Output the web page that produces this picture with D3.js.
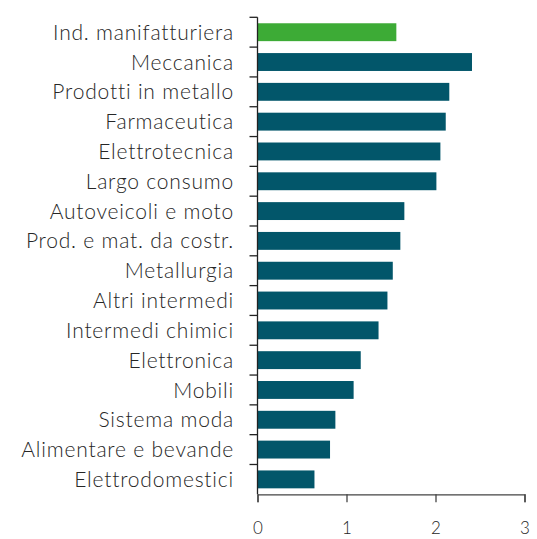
<!DOCTYPE html>
<html><head><meta charset="utf-8">
<script src="https://cdn.jsdelivr.net/npm/d3@7"></script>
<style>body{margin:0;background:#fff}</style>
</head><body>
<svg id="c" width="537" height="539"></svg>
<script>
const categories = ["Ind. manifatturiera","Meccanica","Prodotti in metallo","Farmaceutica","Elettrotecnica","Largo consumo","Autoveicoli e moto","Prod. e mat. da costr.","Metallurgia","Altri intermedi","Intermedi chimici","Elettronica","Mobili","Sistema moda","Alimentare e bevande","Elettrodomestici"];
const values = [1.56,2.41,2.155,2.115,2.055,2.01,1.65,1.605,1.52,1.46,1.36,1.16,1.08,0.875,0.815,0.64];
const xTicks = [0,1,2,3];

const svg = d3.select("#c");
const x = d3.scaleLinear().domain([0,3]).range([257.5,524.5]);
const y = d3.scaleBand().domain(categories).range([17.3,494.3]).paddingInner(0.4).paddingOuter(0.2);

svg.selectAll("rect.bar").data(categories).enter().append("rect")
  .attr("x", x(0)).attr("y", d=>y(d))
  .attr("width", (d,i)=>x(values[i])-x(0)).attr("height", y.bandwidth())
  .attr("fill", (d,i)=> i===0 ? "#3dab36" : "#02566a");

// y axis line and ticks
const step = y.step();
const yAxisG = svg.append("g");
yAxisG.append("line").attr("x1",x(0)).attr("x2",x(0)).attr("y1",17.3).attr("y2",494.3).attr("stroke","#222").attr("stroke-width",1.3);
d3.range(categories.length).forEach(i=>{
  const yy = 17.3 + i*step;
  yAxisG.append("line").attr("x1",x(0)-8).attr("x2",x(0)).attr("y1",yy).attr("y2",yy).attr("stroke","#222").attr("stroke-width",1.3);
});
// labels
svg.selectAll("text.lab").data(categories).enter().append("text")
  .attr("x",234).attr("y",d=>y(d)+y.bandwidth()/2).attr("dy","0.36em")
  .attr("text-anchor","end").attr("font-family","Lato, sans-serif").attr("font-weight",300)
  .attr("font-size",21).attr("letter-spacing",0.8)
  .attr("fill","#262626").text(d=>d);

// x axis
const xa = svg.append("g").attr("transform","translate(0,494.3)")
  .call(d3.axisBottom(x).tickValues(xTicks).tickSize(8).tickPadding(20).tickFormat(d3.format("d")));
xa.select(".domain").attr("stroke","#444").attr("stroke-width",1.3);
xa.selectAll(".tick line").attr("stroke","#444").attr("stroke-width",1.3);
xa.selectAll("text").attr("font-family","Lato, sans-serif").attr("font-weight",300).attr("font-size",17).attr("fill","#262626");
</script>
</body></html>
